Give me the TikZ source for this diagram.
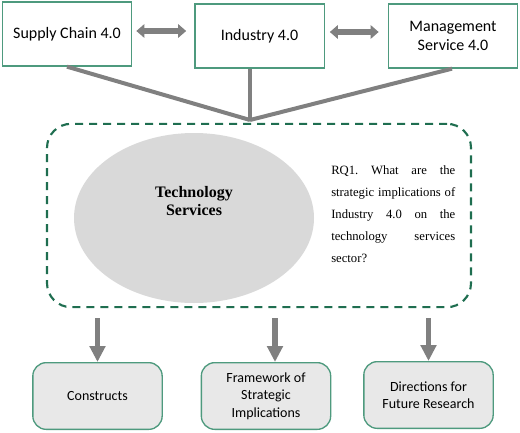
\documentclass[tikz,border=0pt]{standalone}
\usepackage{fontspec}
\setmainfont{Liberation Serif}
\setsansfont{Carlito}
\usepackage{xcolor}
\usepackage{tikz}
\usetikzlibrary{positioning, arrows.meta, shapes.geometric}
\definecolor{boxgreen}{RGB}{78, 154, 126}
\definecolor{dashgreen}{RGB}{31, 110, 80}
\definecolor{arrowgray}{RGB}{128, 128, 128}
\definecolor{ellipsegray}{RGB}{217, 217, 217}
\definecolor{outgray}{RGB}{232, 232, 232}
\tikzset{
    topbox/.style={draw=boxgreen, fill=white, line width=1pt, minimum width=97pt, minimum height=48pt, align=center, font=\sffamily\fontsize{12}{14}\selectfont},
    outbox/.style={draw=boxgreen, fill=outgray, line width=1pt, rounded corners=10pt, minimum width=97pt, minimum height=50pt, align=center, font=\sffamily\fontsize{10.5}{13}\selectfont},
    feedline/.style={draw=arrowgray, line width=3pt},
    dblarrow/.style={draw=arrowgray, line width=4.5pt, {Triangle[width=10pt, length=6pt]}-{Triangle[width=10pt, length=6pt]}},
    downarrow/.style={draw=arrowgray, line width=4pt, -{Triangle[width=11.5pt, length=12pt]}}
}

\begin{document}
\frenchspacing
\begin{tikzpicture}[x=0.75pt, y=-0.75pt]
        \useasboundingbox (0,0) rectangle (520,432);

        % top row
        \node[topbox] (supply) at (67,34) {Supply Chain 4.0};
        \node[topbox] (industry) at (259.5,36) {Industry 4.0};
        \node[topbox] (mgmt) at (453,36) {Management\\Service 4.0};

        \draw[dblarrow] ([shift={(3pt,2.25pt)}]supply.east) -- ([shift={(-6pt,3.75pt)}]industry.west);
        \draw[dblarrow] ([shift={(3.75pt,3pt)}]industry.east) -- ([shift={(-6.75pt,3pt)}]mgmt.west);

        % converging lines
        \coordinate (hub) at (250,120);
        \draw[feedline] (supply.south) -- (hub);
        \draw[feedline] (hub |- industry.south) -- (hub);
        \draw[feedline] ([xshift=-0.75pt]mgmt.south) -- (hub);

        % central block
        \node[draw=dashgreen, line width=1.6pt, dash pattern=on 6pt off 4.5pt, rounded corners=18pt, minimum width=318pt, minimum height=137.5pt] (tsbox) at (259,215.5) {};
        \node[ellipse, fill=ellipsegray, minimum width=180pt, minimum height=127.5pt] (tech) at (194,218) {};
        \node[font=\bfseries\fontsize{12}{13.5}\selectfont, align=center] (techtext) at ([yshift=12.75pt]tech.center) {Technology\\Services};
        \node[anchor=west, inner sep=0pt, text width=93pt, align=justify, font=\fontsize{9.5}{16.5}\selectfont] (rq) at (331,214.5) {RQ1. What are the\linebreak strategic implications of\linebreak Industry 4.0 on the\linebreak technology services\linebreak sector?};

        % outcomes
        \node[outbox] (constructs) at (97.5,396) {Constructs};
        \node[outbox] (framework) at (266,396) {Framework of\\Strategic\\Implications};
        \node[outbox] (directions) at (428.5,395) {Directions for\\Future Research};
        \coordinate (frametop) at ([xshift=6.75pt]framework.north);

        \draw[downarrow] ([yshift=-7.5pt]tsbox.south -| constructs.north) -- (constructs.north);
        \draw[downarrow] ([yshift=-7.5pt]tsbox.south -| frametop) -- (frametop);
        \draw[downarrow] ([yshift=-7.5pt]tsbox.south -| directions.north) -- (directions.north);
    \end{tikzpicture}
\end{document}
